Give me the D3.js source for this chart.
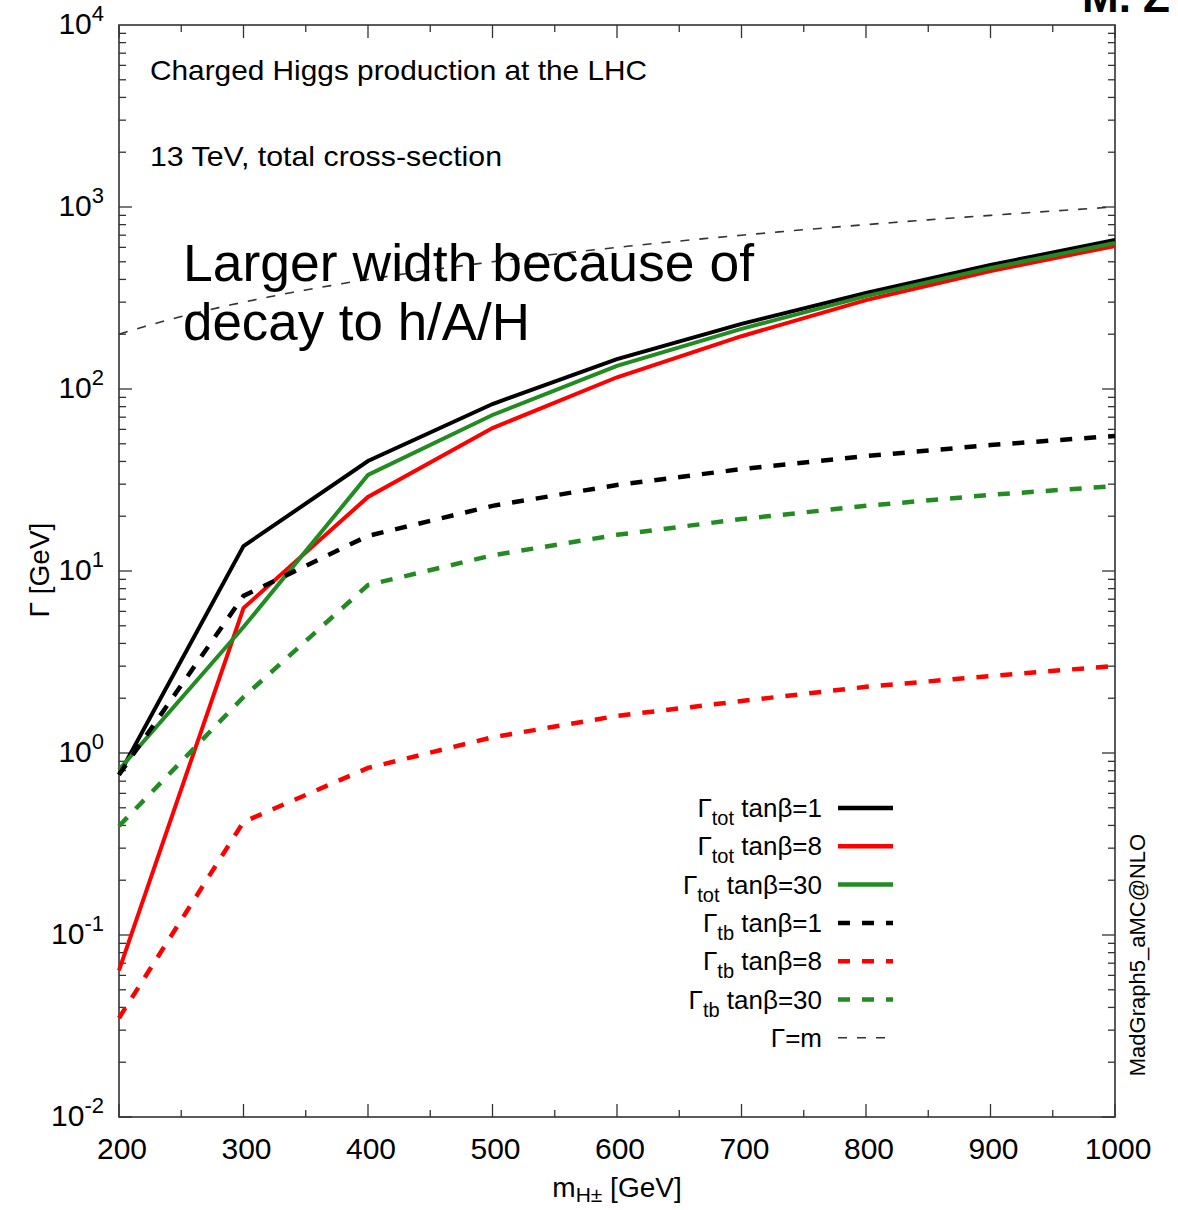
<!DOCTYPE html>
<html>
<head>
<meta charset="utf-8">
<script src="https://cdn.jsdelivr.net/npm/d3@7"></script>
<style>
  html, body { margin: 0; padding: 0; background: #fff; }
  svg { display: block; font-family: "Liberation Sans", Arial, Helvetica, sans-serif; }
</style>
</head>
<body>
<svg id="chart" width="1178" height="1210"></svg>
<script>
// Charged Higgs masses (GeV)
const masses = [200, 300, 400, 500, 600, 700, 800, 900, 1000];

// Total widths Γ_tot (GeV)
const totTanb1  = [0.76, 13.7, 40.2, 82.7, 146, 228, 337, 480, 659];
const totTanb8  = [0.064, 6.26, 25.5, 61, 116, 195, 308, 445, 611];
const totTanb30 = [0.81, 4.92, 33.7, 72, 134, 214, 324, 462, 634];

// Partial widths Γ_tb (GeV)
const tbTanb1  = [0.76, 7.3, 15.6, 22.8, 29.7, 36.3, 42.8, 49.2, 55.2];
const tbTanb8  = [0.035, 0.418, 0.828, 1.22, 1.60, 1.93, 2.31, 2.65, 3.01];
const tbTanb30 = [0.397, 2.03, 8.38, 12.2, 15.8, 19.3, 22.8, 26.2, 29.3];

// Reference line Γ = m
const gammaEqM = [200, 1000];

const xTicks = [200, 300, 400, 500, 600, 700, 800, 900, 1000];
const yExponents = [-2, -1, 0, 1, 2, 3, 4];

const series = [
  { sub: "tot", tb: "1",  values: totTanb1,  color: "#000000", dash: null },
  { sub: "tot", tb: "8",  values: totTanb8,  color: "#ff0000", dash: null },
  { sub: "tot", tb: "30", values: totTanb30, color: "#228b22", dash: null },
  { sub: "tb",  tb: "1",  values: tbTanb1,   color: "#000000", dash: "12,12" },
  { sub: "tb",  tb: "8",  values: tbTanb8,   color: "#ff0000", dash: "12,12" },
  { sub: "tb",  tb: "30", values: tbTanb30,  color: "#228b22", dash: "12,12" }
];

const svg = d3.select("#chart");
const plotL = 119, plotR = 1115, plotT = 25, plotB = 1117;

const x = d3.scaleLinear().domain([200, 1000]).range([plotL, plotR]);
const y = d3.scaleLog().domain([1e-2, 1e4]).range([plotB, plotT]);

const axisColor = "#333";

// Minor / major ticks on all four sides, pointing inwards
const gTicks = svg.append("g").attr("stroke", axisColor).attr("stroke-width", 1.3);
for (let e = -2; e < 4; e++) {
  for (let k = 1; k <= 9; k++) {
    const v = k * Math.pow(10, e);
    const len = k === 1 ? 13 : 7;
    gTicks.append("line").attr("x1", plotL).attr("x2", plotL + len).attr("y1", y(v)).attr("y2", y(v));
    gTicks.append("line").attr("x1", plotR).attr("x2", plotR - len).attr("y1", y(v)).attr("y2", y(v));
  }
}
for (let m = 200; m <= 1000; m += 50) {
  const len = m % 100 === 0 ? 13 : 7;
  gTicks.append("line").attr("x1", x(m)).attr("x2", x(m)).attr("y1", plotB).attr("y2", plotB - len);
  gTicks.append("line").attr("x1", x(m)).attr("x2", x(m)).attr("y1", plotT).attr("y2", plotT + len);
}

// Frame
svg.append("rect").attr("x", plotL).attr("y", plotT)
  .attr("width", plotR - plotL).attr("height", plotB - plotT)
  .attr("fill", "none").attr("stroke", axisColor).attr("stroke-width", 1.6);

// X tick labels
svg.append("g").selectAll("text").data(xTicks).join("text")
  .attr("x", d => x(d) + 3).attr("y", 1159)
  .attr("text-anchor", "middle").attr("font-size", 30).attr("fill", "#000")
  .text(d => d);

// Y tick labels 10^n
const yl = svg.append("g").selectAll("text").data(yExponents).join("text")
  .attr("x", 104).attr("y", d => y(Math.pow(10, d)) + 9)
  .attr("text-anchor", "end").attr("font-size", 30).attr("fill", "#000");
yl.append("tspan").text("10");
yl.append("tspan").attr("dy", -13).attr("font-size", 22).text(d => d);

// Axis titles
const xt = svg.append("text").attr("x", 617).attr("y", 1197)
  .attr("text-anchor", "middle").attr("font-size", 28).attr("fill", "#000");
xt.append("tspan").text("m");
xt.append("tspan").attr("dy", 5).attr("font-size", 21).text("H±");
xt.append("tspan").attr("dy", -5).text(" [GeV]");

svg.append("text").attr("transform", "translate(49,570) rotate(-90)")
  .attr("text-anchor", "middle").attr("font-size", 28).attr("fill", "#000")
  .text("Γ [GeV]");

svg.append("text").attr("transform", "translate(1145,955) rotate(-90)")
  .attr("text-anchor", "middle").attr("font-size", 22).attr("fill", "#000")
  .text("MadGraph5_aMC@NLO");

// Annotations
svg.append("text").attr("x", 150).attr("y", 80).attr("font-size", 28).attr("fill", "#000")
  .attr("textLength", 497).attr("lengthAdjust", "spacingAndGlyphs")
  .text("Charged Higgs production at the LHC");
svg.append("text").attr("x", 150).attr("y", 166).attr("font-size", 28).attr("fill", "#000")
  .attr("textLength", 352).attr("lengthAdjust", "spacingAndGlyphs")
  .text("13 TeV, total cross-section");

// Γ = m reference line
const line = d3.line().x(d => x(d[0])).y(d => y(d[1]));
const mGrid = d3.range(gammaEqM[0], gammaEqM[1] + 1, 10);
svg.append("path").datum(mGrid.map(m => [m, m]))
  .attr("d", line).attr("fill", "none")
  .attr("stroke", "#333").attr("stroke-width", 1.6).attr("stroke-dasharray", "9,10");

// Width curves
svg.append("g").selectAll("path").data(series).join("path")
  .attr("d", s => line(masses.map((m, i) => [m, s.values[i]])))
  .attr("fill", "none").attr("stroke", s => s.color)
  .attr("stroke-width", s => s.dash ? 4.5 : 4)
  .attr("stroke-dasharray", s => s.dash)
  .attr("stroke-linejoin", "miter");

// Legend
const legendItems = series.concat([{ label: "Γ=m", color: "#333", dash: "9,10", thin: true }]);
const lg = svg.append("g");
legendItems.forEach((s, i) => {
  const ly = 808 + i * 38.3;
  const t = lg.append("text").attr("x", 822).attr("y", ly + 9)
    .attr("text-anchor", "end").attr("font-size", 26).attr("fill", "#000");
  if (s.label) {
    t.text(s.label);
  } else {
    t.append("tspan").text("Γ");
    t.append("tspan").attr("dy", 8).attr("font-size", 20).text(s.sub);
    t.append("tspan").attr("dy", -8).text(" tanβ=" + s.tb);
  }
  lg.append("line").attr("x1", 838).attr("x2", 893).attr("y1", ly).attr("y2", ly)
    .attr("stroke", s.color).attr("stroke-width", s.thin ? 1.6 : 4.5)
    .attr("stroke-dasharray", s.dash);
});

// Overlay note
svg.append("text").attr("x", 183).attr("y", 281).attr("font-size", 51).attr("fill", "#000")
  .attr("textLength", 571).attr("lengthAdjust", "spacingAndGlyphs")
  .text("Larger width because of");
svg.append("text").attr("x", 183).attr("y", 340).attr("font-size", 51).attr("fill", "#000")
  .attr("textLength", 347).attr("lengthAdjust", "spacingAndGlyphs")
  .text("decay to h/A/H");

// Slide header, partly above the top edge
svg.append("text").attr("x", 1082).attr("y", 12).attr("font-size", 44)
  .attr("font-weight", "bold").attr("fill", "#000").text("M. Z");
</script>
</body>
</html>
